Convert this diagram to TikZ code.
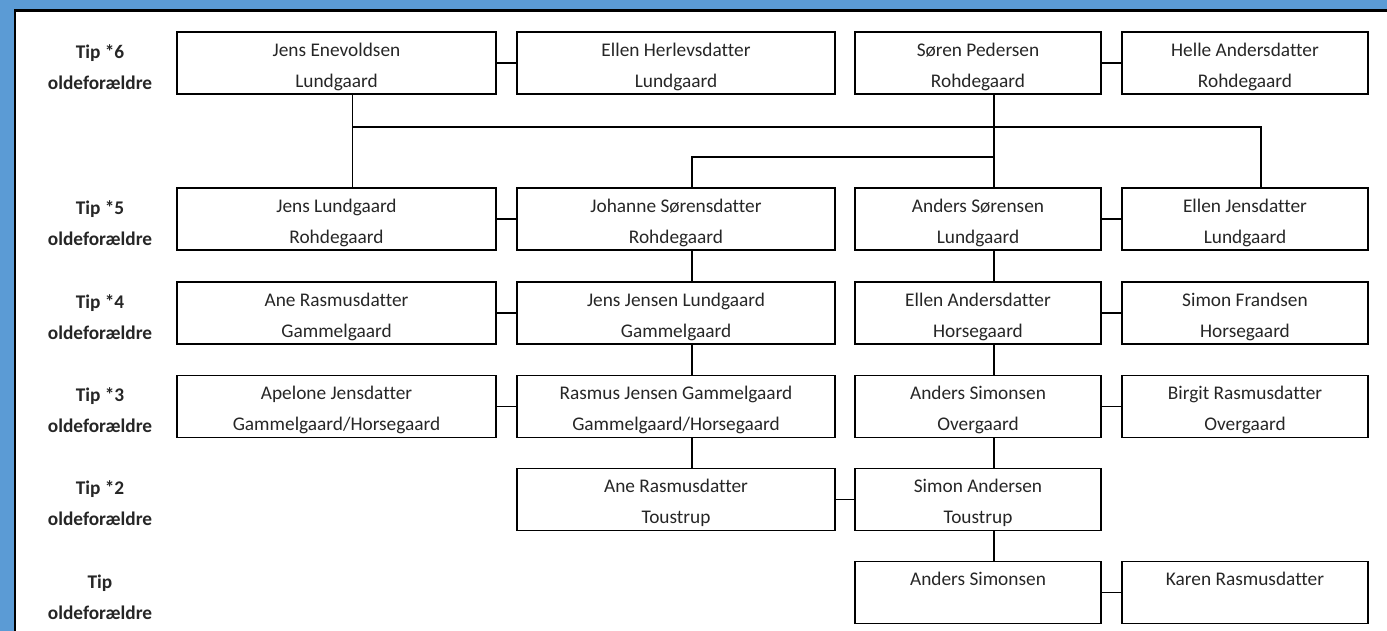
\documentclass[tikz,border=0pt]{standalone}
\usepackage{fontspec}
\setmainfont{Carlito}[Ligatures=NoCommon]
\usepackage{tikz}
\definecolor{frameblue}{RGB}{91,155,213}

\begin{document}
\begin{tikzpicture}
    [
    person/.style = {draw,inner sep=0pt,minimum height=1.24cm,align=center,text height=30pt,text depth=2.5pt,text=black!85,font=\fontsize{11}{17.6}\selectfont}
    , wide/.style = {person,minimum width=6.37cm}
    , narrow/.style = {person,minimum width=4.92cm}
    , gen/.style = {align=center,text=black!85,font=\fontsize{11}{17.6}\selectfont\bfseries}
    , line width=0.9pt
    , x=0.02cm, y=-0.02cm
    ]
\useasboundingbox (0,0) rectangle (1387,631);
\fill[frameblue] (0,0) rectangle (1387,10);
\fill[frameblue] (0,0) rectangle (15,631);
\draw[line width=1.6pt] (15,631) -- (15,10.5) -- (1387,10.5);

% generations
\node[gen] (g6) at (100,67) {Tip *6\\oldeforældre};
\node[gen] (g5) at (100,223) {Tip *5\\oldeforældre};
\node[gen] (g4) at (100,317) {Tip *4\\oldeforældre};
\node[gen] (g3) at (100,410.5) {Tip *3\\oldeforældre};
\node[gen] (g2) at (100,503.5) {Tip *2\\oldeforældre};
\node[gen] (g1) at (100,597) {Tip\\oldeforældre};

\node[wide] (jensE) at (336.5,63) {Jens Enevoldsen\\Lundgaard};
\node[wide] (ellenH) at (676,63) {Ellen Herlevsdatter\\Lundgaard};
\node[narrow] (soeren) at (978,63) {Søren Pedersen\\Rohdegaard};
\node[narrow] (helle) at (1245,63) {Helle Andersdatter\\Rohdegaard};

\node[wide] (jensL) at (336.5,219) {Jens Lundgaard\\Rohdegaard};
\node[wide] (johanne) at (676,219) {Johanne Sørensdatter\\Rohdegaard};
\node[narrow] (andersS) at (978,219) {Anders Sørensen\\Lundgaard};
\node[narrow] (ellenJ) at (1245,219) {Ellen Jensdatter\\Lundgaard};

\node[wide] (aneG) at (336.5,313) {Ane Rasmusdatter\\Gammelgaard};
\node[wide] (jensJ) at (676,313) {Jens Jensen Lundgaard\\Gammelgaard};
\node[narrow] (ellenA) at (978,313) {Ellen Andersdatter\\Horsegaard};
\node[narrow] (simonF) at (1245,313) {Simon Frandsen\\Horsegaard};

\node[wide] (apelone) at (336.5,406.5) {Apelone Jensdatter\\Gammelgaard/Horsegaard};
\node[wide] (rasmus) at (676,406.5) {Rasmus Jensen Gammelgaard\\Gammelgaard/Horsegaard};
\node[narrow] (andersO) at (978,406.5) {Anders Simonsen\\Overgaard};
\node[narrow] (birgit) at (1245,406.5) {Birgit Rasmusdatter\\Overgaard};

\node[wide] (aneT) at (676,499.5) {Ane Rasmusdatter\\Toustrup};
\node[narrow] (simonA) at (978,499.5) {Simon Andersen\\Toustrup};

\node[narrow] (andersT) at (978,592.5) {Anders Simonsen\\\phantom{X}};
\node[narrow] (karen) at (1245,592.5) {Karen Rasmusdatter\\\phantom{X}};

% couples
\foreach \a/\b in {jensE/ellenH, soeren/helle, jensL/johanne, andersS/ellenJ, aneG/jensJ, ellenA/simonF, apelone/rasmus, andersO/birgit, aneT/simonA, andersT/karen}
    \draw (\a) -- (\b);

% children
\foreach \a/\b in {johanne/jensJ, jensJ/rasmus, rasmus/aneT, andersS/ellenA, ellenA/andersO, andersO/simonA, simonA/andersT}
    \draw ([xshift=0.32cm]\a.south) -- ([xshift=0.32cm]\b.north);

\coordinate (bar6) at (0,127);
\coordinate (bar5) at (0,157);
\coordinate (dropJ) at ([xshift=0.32cm]jensE.south);
\coordinate (dropS) at ([xshift=0.32cm]soeren.south);
\coordinate (topE) at ([xshift=0.32cm]ellenJ.north);
\coordinate (topJ) at ([xshift=0.32cm]johanne.north);
\draw (dropJ) -- (dropJ |- jensL.north);
\draw (dropJ |- bar6) -| (topE);
\draw (dropS) -- (dropS |- andersS.north);
\draw (dropS |- bar5) -| (topJ);
\end{tikzpicture}
\end{document}
